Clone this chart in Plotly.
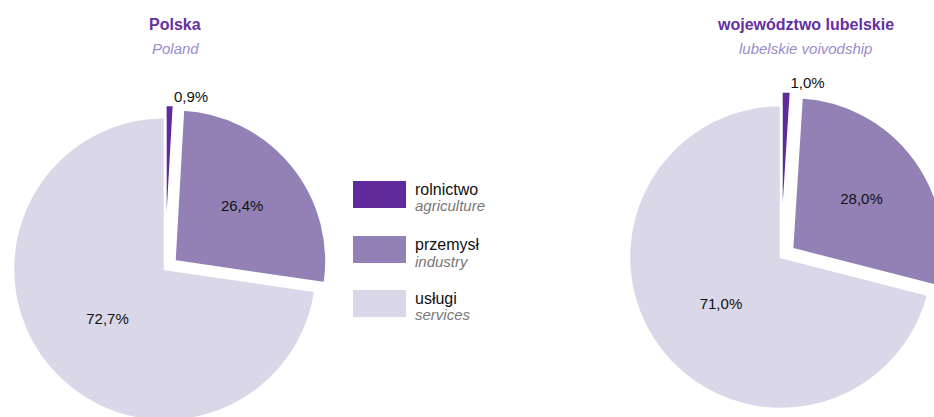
import plotly.graph_objects as go

# ---- data ----
categories_pl = ["rolnictwo", "przemysł", "usługi"]
categories_en = ["agriculture", "industry", "services"]
polska_values = [0.9, 26.4, 72.7]
lubelskie_values = [1.0, 28.0, 71.0]
pie_titles_pl = ["Polska", "województwo lubelskie"]
pie_titles_en = ["Poland", "lubelskie voivodship"]

colors = ["#5e2a9c", "#9381b6", "#dad8e8"]
FONT = "Liberation Sans, Arial, sans-serif"

# the original graphic is a crop of a larger figure: draw the figure a bit
# larger and show only the 934x417 window of it
W, H = 950, 440
VIEW_W, VIEW_H = 934, 417


def dom(cx, cy, r, pull):
    half = r * (1 + max(pull))
    return dict(x=[max(0, (cx - half) / W), min(1, (cx + half) / W)],
                y=[max(0, (H - (cy + half)) / H), min(1, (H - (cy - half)) / H)])


def fmt(v):
    return f"{v:.1f}".replace(".", ",") + "%"


pies = [
    (polska_values, (165, 269, 152), [0.08, 0.08, 0.0]),
    (lubelskie_values, (781, 257, 152), [0.09, 0.09, 0.0]),
]

fig = go.Figure()
for vals, (cx, cy, r), pull in pies:
    fig.add_trace(go.Pie(
        labels=categories_pl, values=vals, sort=False, direction="clockwise",
        rotation=0, pull=pull, domain=dom(cx, cy, r, pull), automargin=False,
        marker=dict(colors=colors, line=dict(color="white", width=2.5)),
        text=[fmt(v) for v in vals], textinfo="text",
        textposition=["outside", "inside", "inside"],
        insidetextorientation="horizontal",
        textfont=dict(family=FONT, size=15, color="#111111"),
        showlegend=False, hoverinfo="label+text",
    ))

# titles
for xc, tp, te in [(175, pie_titles_pl[0], pie_titles_en[0]), (805, pie_titles_pl[1], pie_titles_en[1])]:
    fig.add_annotation(x=xc / W, y=(H - 24) / H, xref="paper", yref="paper", text=f"<b>{tp}</b>",
                       showarrow=False, xanchor="center", yanchor="middle",
                       font=dict(family=FONT, size=16, color="#6530a0"))
    fig.add_annotation(x=xc / W, y=(H - 48) / H, xref="paper", yref="paper", text=f"<i>{te}</i>",
                       showarrow=False, xanchor="center", yanchor="middle",
                       font=dict(family=FONT, size=15, color="#9b8ccb"))

# custom legend (large swatches as in the original)
tops = [181, 236, 290]
for i, top in enumerate(tops):
    fig.add_shape(type="rect", xref="paper", yref="paper",
                  x0=353 / W, x1=406 / W, y0=(H - top - 27) / H, y1=(H - top) / H,
                  fillcolor=colors[i], line=dict(width=0))
    fig.add_annotation(x=413 / W, y=(H - top - 8) / H, xref="paper", yref="paper",
                       text=categories_pl[i], showarrow=False, xanchor="left", yanchor="middle",
                       font=dict(family=FONT, size=16, color="#111111"))
    fig.add_annotation(x=413 / W, y=(H - top - 25) / H, xref="paper", yref="paper",
                       text=f"<i>{categories_en[i]}</i>", showarrow=False, xanchor="left", yanchor="middle",
                       font=dict(family=FONT, size=15, color="#777777"))

fig.update_layout(width=W, height=H, margin=dict(l=0, r=0, t=0, b=0, autoexpand=False),
                  paper_bgcolor="white", plot_bgcolor="white")

clip_js = (
    "document.documentElement.style.margin='0';"
    "document.documentElement.style.overflow='hidden';"
    "document.body.style.margin='0';document.body.style.overflow='hidden';"
    "var g=document.getElementById('{plot_id}');"
    "g.parentElement.style.cssText='width:%dpx;height:%dpx;overflow:hidden;margin:0;';"
    % (VIEW_W, VIEW_H)
)

fig.write_html("out.html", config={"displayModeBar": False}, post_script=clip_js)
